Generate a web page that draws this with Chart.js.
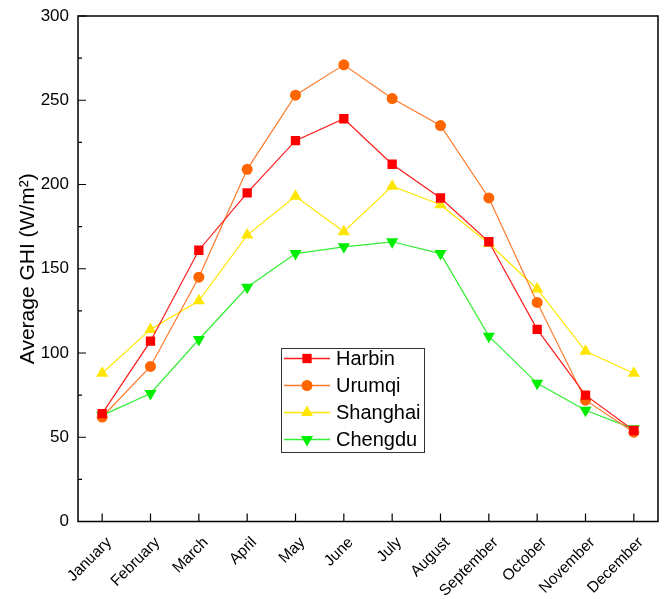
<!DOCTYPE html>
<html lang="en">
<head>
<meta charset="UTF-8">
<title>Average GHI</title>
<script src="https://cdn.jsdelivr.net/npm/chart.js@4"></script>
<style>
html, body {
	margin: 0;
	padding: 0;
	background: #fff;
}

.wrap {
	width: 666px;
	height: 599px;
}
</style>
</head>
<body>
<div class="wrap">
	<canvas id="ghiChart" width="666" height="599"></canvas>
</div>
<script>
const months = ['January', 'February', 'March', 'April', 'May', 'June',
	'July', 'August', 'September', 'October', 'November', 'December'];
const harbin = [64, 107, 161, 195, 226, 239, 212, 192, 166, 114, 75, 54];
const urumqi = [62, 92, 145, 209, 253, 271, 251, 235, 192, 130, 72, 53];
const shanghai = [88, 114, 131, 170, 193, 172, 199, 188, 165, 138, 101, 88];
const chengdu = [63, 76, 108, 139, 159, 163, 166, 159, 110, 82, 66, 55];
const yTicks = [0, 50, 100, 150, 200, 250, 300];

const FONT = "'Liberation Sans', Arial, sans-serif";

// frame + inward ticks like the original plot
const frameTicks = {
	id: 'frameTicks',
	afterDatasetsDraw(chart) {
		const ctx = chart.ctx;
		const a = chart.chartArea;
		const x = chart.scales.x;
		const y = chart.scales.y;
		ctx.save();
		ctx.strokeStyle = '#000';
		ctx.lineWidth = 1.5;
		ctx.strokeRect(a.left, a.top, a.right - a.left, a.bottom - a.top);
		ctx.lineWidth = 1.2;
		ctx.beginPath();
		for (let v = 0; v <= 300; v += 25) {
			const py = y.getPixelForValue(v);
			const len = v % 50 === 0 ? 8 : 4;
			ctx.moveTo(a.left, py);
			ctx.lineTo(a.left + len, py);
		}
		for (let i = 0; i < months.length; i++) {
			const px = x.getPixelForValue(i);
			ctx.moveTo(px, a.bottom);
			ctx.lineTo(px, a.bottom - 8);
		}
		ctx.stroke();
		ctx.restore();
	}
};

// legend box inside the plot
const boxLegend = {
	id: 'boxLegend',
	afterDraw(chart) {
		const ctx = chart.ctx;
		const left = 281, top = 348, w = 143, h = 104;
		ctx.save();
		ctx.fillStyle = '#fff';
		ctx.fillRect(left, top, w, h);
		ctx.strokeStyle = '#333';
		ctx.lineWidth = 1;
		ctx.strokeRect(left + 0.5, top + 0.5, w, h);
		ctx.font = '20px ' + FONT;
		ctx.textBaseline = 'middle';
		chart.data.datasets.forEach((ds, i) => {
			const cy = top + 10.5 + i * 27;
			ctx.strokeStyle = ds.borderColor;
			ctx.lineWidth = 1.3;
			ctx.beginPath();
			ctx.moveTo(left + 3, cy);
			ctx.lineTo(left + 49, cy);
			ctx.stroke();
			ctx.fillStyle = ds.pointBackgroundColor;
			ctx.strokeStyle = ds.pointBackgroundColor;
			Chart.helpers.drawPoint(ctx, {
				pointStyle: ds.pointStyle,
				radius: ds.pointRadius,
				rotation: ds.pointRotation || 0,
				borderWidth: 0
			}, left + 26, cy);
			ctx.fillStyle = '#000';
			ctx.fillText(ds.label, left + 55, cy + 1);
		});
		ctx.restore();
	}
};

function series(label, data, line, fill, style, radius, rot) {
	return {
		label: label,
		data: data,
		borderColor: line,
		borderWidth: 1.2,
		pointStyle: style,
		pointRadius: radius,
		pointHoverRadius: radius,
		pointRotation: rot,
		pointBackgroundColor: fill,
		pointBorderColor: fill,
		pointBorderWidth: 0,
		tension: 0,
		fill: false
	};
}

const ctx = document.getElementById('ghiChart').getContext('2d');
const ghiChart = new Chart(ctx, {
	type: 'line',
	data: {
		labels: months,
		datasets: [
			series('Harbin', harbin, '#ff1a1a', '#ff0000', 'rect', 6.6, 0),
			series('Urumqi', urumqi, '#ff7a2a', '#ff6600', 'circle', 5.5, 0),
			series('Shanghai', shanghai, '#ffe600', '#ffe600', 'triangle', 7, 0),
			series('Chengdu', chengdu, '#33ee33', '#00ee00', 'triangle', 7, 180)
		]
	},
	options: {
		responsive: false,
		animation: false,
		layout: {
			padding: { top: 16, right: 8, left: 0, bottom: 0 }
		},
		plugins: {
			legend: { display: false },
			tooltip: { enabled: false }
		},
		scales: {
			x: {
				offset: true,
				grid: { display: false, drawTicks: false },
				border: { display: false },
				afterFit(scale) {
					scale.height = 77.5;
					scale.paddingLeft = 0;
					scale.paddingRight = 0;
				},
				ticks: {
					color: '#000',
					font: { family: FONT, size: 15.5 },
					maxRotation: 45,
					minRotation: 45,
					padding: 12,
					labelOffset: 7
				}
			},
			y: {
				min: 0,
				max: 300,
				grid: { display: false, drawTicks: false },
				border: { display: false },
				afterFit(scale) {
					scale.width = 78;
					scale.paddingTop = 0;
					scale.paddingBottom = 0;
				},
				afterBuildTicks(scale) {
					scale.ticks = yTicks.map(v => ({ value: v }));
				},
				ticks: {
					color: '#000',
					font: { family: FONT, size: 17 },
					padding: 9
				},
				title: {
					display: true,
					text: 'Average GHI (W/m²)',
					color: '#000',
					font: { family: FONT, size: 21 },
					padding: { top: 16, bottom: 0 }
				}
			}
		}
	},
	plugins: [frameTicks, boxLegend]
});
</script>
</body>
</html>
